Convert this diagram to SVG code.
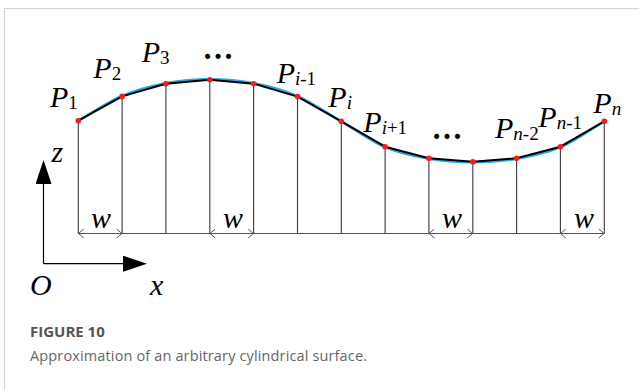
<svg xmlns="http://www.w3.org/2000/svg" width="639" height="390" viewBox="0 0 639 390">
<defs>
<style>
.lbl{font-family:"Liberation Serif","Times New Roman",serif;font-style:italic;font-size:30px;fill:#000}
.sub{font-size:19px;font-style:normal}
.it{font-style:italic}
.dots{font-family:"Liberation Serif","Times New Roman",serif;font-weight:bold;font-size:31px;fill:#000}
.vline{stroke:#3a3a3a;stroke-width:1.1}
.pt{fill:#ff1a1a}
.cap1{font-family:"Open Sans","Noto Sans",sans-serif;font-weight:bold;font-size:15px;fill:#555}
.cap2{font-family:"Open Sans","Noto Sans",sans-serif;font-size:14.5px;fill:#666}
</style>
<marker id="chev" viewBox="0 0 6 10" refX="6" refY="5" markerWidth="6" markerHeight="10" markerUnits="userSpaceOnUse" orient="auto-start-reverse">
<path d="M0.5,0.5 L5.8,5 L0.5,9.5" fill="none" stroke="#555" stroke-width="1"/>
</marker>
<marker id="tri" viewBox="0 0 24 16" refX="0" refY="8" markerWidth="24" markerHeight="16" markerUnits="userSpaceOnUse" orient="auto">
<path d="M0,0 L24,8 L0,16 Z" fill="#000"/>
</marker>
</defs>
<path d="M4.5,390 V8.5 H639" fill="none" stroke="#d0d0d0" stroke-width="1"/>

<g id="axes">
<path d="M43.5,263.7 V184" fill="none" stroke="#000" stroke-width="1.2" marker-end="url(#tri)"/>
<path d="M43.5,263.7 H123" fill="none" stroke="#000" stroke-width="1.2" marker-end="url(#tri)"/>
<text class="lbl" x="51.5" y="161.5" font-size="28">z</text>
<text class="lbl" x="150" y="295">x</text>
<text class="lbl" x="30" y="295">O</text>
</g>

<g id="connectors">
<g class="vline">
<line x1="78.3" y1="120.7" x2="78.3" y2="233.5"/>
<line x1="122.1" y1="96.4" x2="122.1" y2="233.5"/>
<line x1="165.9" y1="83.7" x2="165.9" y2="233.5"/>
<line x1="209.8" y1="79.7" x2="209.8" y2="233.5"/>
<line x1="253.6" y1="83.7" x2="253.6" y2="233.5"/>
<line x1="297.5" y1="96.6" x2="297.5" y2="233.5"/>
<line x1="341.3" y1="121.3" x2="341.3" y2="233.5"/>
<line x1="385.1" y1="146.7" x2="385.1" y2="233.5"/>
<line x1="428.9" y1="158.3" x2="428.9" y2="233.5"/>
<line x1="472.8" y1="161.7" x2="472.8" y2="233.5"/>
<line x1="516.6" y1="158.3" x2="516.6" y2="233.5"/>
<line x1="560.4" y1="146.7" x2="560.4" y2="233.5"/>
<line x1="604.3" y1="121.3" x2="604.3" y2="233.5"/>
</g>
<line x1="78.3" y1="233.5" x2="604.3" y2="233.5" stroke="#555" stroke-width="1"/>
<g stroke="#555" stroke-width="1" fill="none">
<line x1="78.3" y1="233.5" x2="122.1" y2="233.5" marker-start="url(#chev)" marker-end="url(#chev)"/>
<line x1="209.8" y1="233.5" x2="253.6" y2="233.5" marker-start="url(#chev)" marker-end="url(#chev)"/>
<line x1="428.9" y1="233.5" x2="472.8" y2="233.5" marker-start="url(#chev)" marker-end="url(#chev)"/>
<line x1="560.4" y1="233.5" x2="604.3" y2="233.5" marker-start="url(#chev)" marker-end="url(#chev)"/>
</g>
<path d="M78.3,120.7 C92.9,112.2 107.5,102.2 122.1,95.9 C136.7,89.7 151.3,86.0 165.9,83.2 C180.5,80.4 195.2,79.2 209.8,79.2 C224.4,79.2 239.0,80.4 253.6,83.2 C268.2,86.0 282.9,89.8 297.5,96.1 C312.1,102.6 326.7,113.0 341.3,121.3 C355.9,130.0 370.5,141.0 385.1,147.2 C399.7,153.4 414.3,156.3 428.9,158.8 C443.5,161.3 458.2,162.2 472.8,162.2 C487.4,162.2 502.0,161.3 516.6,158.8 C531.2,156.3 545.8,153.4 560.4,147.2 C575.0,141.0 589.7,129.8 604.3,121.3" fill="none" stroke="#2aa8e0" stroke-width="2.5"/>
<polyline points="78.3,120.7 122.1,96.4 165.9,83.7 209.8,79.7 253.6,83.7 297.5,96.6 341.3,121.3 385.1,146.7 428.9,158.3 472.8,161.7 516.6,158.3 560.4,146.7 604.3,121.3" fill="none" stroke="#000" stroke-width="2" stroke-linejoin="round"/>
</g>

<g id="p1"><circle class="pt" cx="78.3" cy="120.7" r="2.8"/><text class="lbl" x="50" y="106.7">P<tspan class="sub" dy="2">1</tspan></text></g>
<g id="p2"><circle class="pt" cx="122.1" cy="96.4" r="2.8"/><text class="lbl" x="93.3" y="78.3">P<tspan class="sub" dy="2">2</tspan></text></g>
<g id="p3"><circle class="pt" cx="165.9" cy="83.7" r="2.8"/><text class="lbl" x="141.7" y="61.7">P<tspan class="sub" dy="2">3</tspan></text></g>
<g id="p4"><circle class="pt" cx="209.8" cy="79.7" r="2.8"/><text class="dots" x="218" y="58.5" text-anchor="middle">…</text></g>
<g id="p5"><circle class="pt" cx="253.6" cy="83.7" r="2.8"/></g>
<g id="p6"><circle class="pt" cx="297.5" cy="96.6" r="2.8"/><text class="lbl" x="276.7" y="83.3">P<tspan class="sub" dy="2"><tspan class="it">i</tspan>-1</tspan></text></g>
<g id="p7"><circle class="pt" cx="341.3" cy="121.3" r="2.8"/><text class="lbl" x="328.3" y="106.7">P<tspan class="sub it" dy="2">i</tspan></text></g>
<g id="p8"><circle class="pt" cx="385.1" cy="146.7" r="2.8"/><text class="lbl" x="363.3" y="131.7">P<tspan class="sub" dy="2"><tspan class="it">i</tspan>+1</tspan></text></g>
<g id="p9"><circle class="pt" cx="428.9" cy="158.3" r="2.8"/><text class="dots" x="447" y="138.5" text-anchor="middle">…</text></g>
<g id="p10"><circle class="pt" cx="472.8" cy="161.7" r="2.8"/></g>
<g id="p11"><circle class="pt" cx="516.6" cy="158.3" r="2.8"/><text class="lbl" x="495" y="138.3">P<tspan class="sub" dy="2"><tspan class="it">n</tspan>-2</tspan></text></g>
<g id="p12"><circle class="pt" cx="560.4" cy="146.7" r="2.8"/><text class="lbl" x="538.3" y="126.7">P<tspan class="sub" dy="2"><tspan class="it">n</tspan>-1</tspan></text></g>
<g id="p13"><circle class="pt" cx="604.3" cy="121.3" r="2.8"/><text class="lbl" x="593.3" y="113.3">P<tspan class="sub it" dy="2">n</tspan></text></g>

<g id="w-labels">
<text class="lbl" x="101" y="228" text-anchor="middle">w</text>
<text class="lbl" x="233" y="228" text-anchor="middle">w</text>
<text class="lbl" x="452" y="228" text-anchor="middle">w</text>
<text class="lbl" x="584" y="228" text-anchor="middle">w</text>
</g>

<g id="caption">
<text class="cap1" x="30" y="336.5">FIGURE 10</text>
<text class="cap2" x="30" y="360.5" textLength="337" lengthAdjust="spacing">Approximation of an arbitrary cylindrical surface.</text>
</g>
</svg>
